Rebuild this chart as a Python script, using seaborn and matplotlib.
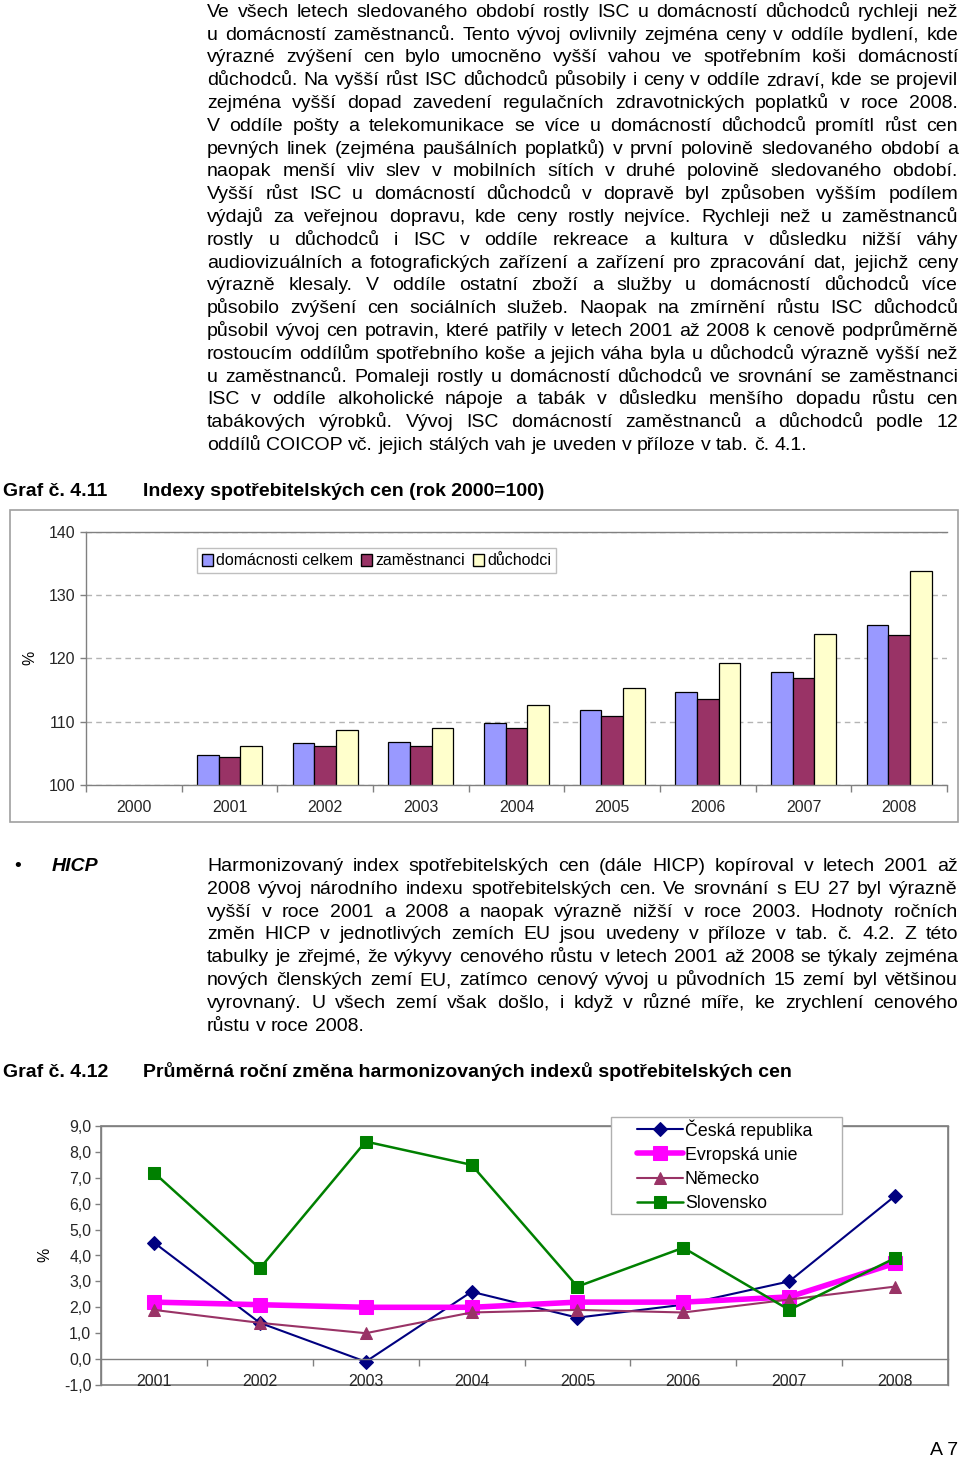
import numpy as np
import pandas as pd
import matplotlib
matplotlib.use("Agg")
import matplotlib.pyplot as plt
import seaborn as sns
from matplotlib.patches import Rectangle
from matplotlib.ticker import FixedLocator, FuncFormatter

# ---------------- data ----------------
bar_categories = ["2000", "2001", "2002", "2003", "2004", "2005", "2006", "2007", "2008"]
bar_years = ["2001", "2002", "2003", "2004", "2005", "2006", "2007", "2008"]
bar_series = ["domácnosti celkem", "zaměstnanci", "důchodci"]
domacnosti_celkem = [104.8, 106.7, 106.8, 109.8, 111.9, 114.7, 117.9, 125.3]
zamestnanci = [104.5, 106.2, 106.2, 109.0, 110.9, 113.6, 116.9, 123.7]
duchodci = [106.2, 108.7, 109.0, 112.6, 115.3, 119.3, 123.8, 133.9]
bar_colors = ["#9999FF", "#993366", "#FFFFCC"]

line_years = [2001, 2002, 2003, 2004, 2005, 2006, 2007, 2008]
line_series = ["Česká republika", "Evropská unie", "Německo", "Slovensko"]
ceska_republika = [4.5, 1.4, -0.1, 2.6, 1.6, 2.1, 3.0, 6.3]
evropska_unie = [2.2, 2.1, 2.0, 2.0, 2.2, 2.2, 2.4, 3.7]
nemecko = [1.9, 1.4, 1.0, 1.8, 1.9, 1.8, 2.3, 2.8]
slovensko = [7.2, 3.5, 8.4, 7.5, 2.8, 4.3, 1.9, 3.9]

para1 = [
    "Ve všech letech sledovaného období rostly ISC u domácností důchodců rychleji než",
    "u domácností zaměstnanců. Tento vývoj ovlivnily zejména ceny v oddíle bydlení, kde",
    "výrazné zvýšení cen bylo umocněno vyšší vahou ve spotřebním koši domácností",
    "důchodců. Na vyšší růst ISC důchodců působily i ceny v oddíle zdraví, kde se projevil",
    "zejména vyšší dopad zavedení regulačních zdravotnických poplatků v roce 2008.",
    "V oddíle pošty a telekomunikace se více u domácností důchodců promítl růst cen",
    "pevných linek (zejména paušálních poplatků) v první polovině sledovaného období a",
    "naopak menší vliv slev v mobilních sítích v druhé polovině sledovaného období.",
    "Vyšší růst ISC u domácností důchodců v dopravě byl způsoben vyšším podílem",
    "výdajů za veřejnou dopravu, kde ceny rostly nejvíce. Rychleji než u zaměstnanců",
    "rostly u důchodců i ISC v oddíle rekreace a kultura v důsledku nižší váhy",
    "audiovizuálních a fotografických zařízení a zařízení pro zpracování dat, jejichž ceny",
    "výrazně klesaly. V oddíle ostatní zboží a služby u domácností důchodců více",
    "působilo zvýšení cen sociálních služeb. Naopak na zmírnění růstu ISC důchodců",
    "působil vývoj cen potravin, které patřily v letech 2001 až 2008 k cenově podprůměrně",
    "rostoucím oddílům spotřebního koše a jejich váha byla u důchodců výrazně vyšší než",
    "u zaměstnanců. Pomaleji rostly u domácností důchodců ve srovnání se zaměstnanci",
    "ISC v oddíle alkoholické nápoje a tabák v důsledku menšího dopadu růstu cen",
    "tabákových výrobků. Vývoj ISC domácností zaměstnanců a důchodců podle 12",
    "oddílů COICOP vč. jejich stálých vah je uveden v příloze v tab. č. 4.1.",
]
para2 = [
    "Harmonizovaný index spotřebitelských cen (dále HICP) kopíroval v letech 2001 až",
    "2008 vývoj národního indexu spotřebitelských cen. Ve srovnání s EU 27 byl výrazně",
    "vyšší v roce 2001 a 2008 a naopak výrazně nižší v roce 2003. Hodnoty ročních",
    "změn HICP v jednotlivých zemích EU jsou uvedeny v příloze v tab. č. 4.2. Z této",
    "tabulky je zřejmé, že výkyvy cenového růstu v letech 2001 až 2008 se týkaly zejména",
    "nových členských zemí EU, zatímco cenový vývoj u původních 15 zemí byl většinou",
    "vyrovnaný. U všech zemí však došlo, i když v různé míře, ke zrychlení cenového",
    "růstu v roce 2008.",
]

# ---------------- setup ----------------
sns.set_theme(style="white")
FONT = ["Liberation Sans", "DejaVu Sans"]
plt.rcParams["font.family"] = FONT
plt.rcParams["text.color"] = "black"

W, H = 960, 1459
fig = plt.figure(figsize=(W / 100, H / 100), dpi=100)
fig.patch.set_facecolor("white")
renderer = fig.canvas.get_renderer()


def X(px):
    return px / W


def Y(py):
    return 1 - py / H


BODY = dict(fontsize=14, family=FONT)


def measure(s, **kw):
    t = fig.text(0, 0, s, **kw)
    w = t.get_window_extent(renderer=renderer).width
    t.remove()
    return w


def draw_para(lines, x0, x1, y0, dy, **kw):
    space_w = measure("a a", **kw) - measure("aa", **kw)
    for i, line in enumerate(lines):
        yb = round(y0 + i * dy)
        words = line.split(" ")
        widths = [measure(w, **kw) for w in words]
        if i == len(lines) - 1 or len(words) == 1:
            gap = space_w
        else:
            gap = (x1 - x0 - sum(widths)) / (len(words) - 1)
        x = x0
        for w, wd in zip(words, widths):
            fig.text(X(x), Y(yb), w, ha="left", va="baseline", **kw)
            x += wd + gap


draw_para(para1, 207, 958, 16.7, 22.8, **BODY)

fig.text(X(3), Y(496), "Graf č. 4.11", ha="left", va="baseline", fontweight="bold", **BODY)
fig.text(X(143), Y(496), "Indexy spotřebitelských cen (rok 2000=100)", ha="left",
         va="baseline", fontweight="bold", **BODY)

fig.text(X(14), Y(871), "•", ha="left", va="baseline", **BODY)
fig.text(X(52), Y(871), "HICP", ha="left", va="baseline", fontweight="bold",
         fontstyle="italic", **BODY)
draw_para(para2, 207, 958, 871, 22.8, **BODY)

fig.text(X(3), Y(1077), "Graf č. 4.12", ha="left", va="baseline", fontweight="bold", **BODY)
fig.text(X(143), Y(1077), "Průměrná roční změna harmonizovaných indexů spotřebitelských cen",
         ha="left", va="baseline", fontweight="bold", **BODY)
fig.text(X(958), Y(1455), "A 7", ha="right", va="baseline", **BODY)

GRAY = "#808080"
GRID = "#B4B4B4"
TF = 11.4  # chart tick font size

# ---------------- bar chart ----------------
fig.add_artist(Rectangle((X(10), Y(822)), X(958) - X(10), Y(510) - Y(822),
                         transform=fig.transFigure, fill=False, edgecolor="#A0A0A0",
                         linewidth=1.2))
ax1 = fig.add_axes([X(86), Y(785), X(947) - X(86), Y(532) - Y(785)])
bar_df = pd.DataFrame({
    "year": bar_years * 3,
    "value": domacnosti_celkem + zamestnanci + duchodci,
    "series": [s for s in bar_series for _ in bar_years],
})
sns.barplot(data=bar_df, x="year", y="value", hue="series", order=bar_categories,
            hue_order=bar_series, palette=bar_colors, saturation=1, width=0.68,
            edgecolor="black", linewidth=0.9, errorbar=None, ax=ax1)
ax1.set_ylim(100, 140)
ax1.set_xlim(-0.5, len(bar_categories) - 0.5)
ax1.set_yticks([100, 110, 120, 130, 140])
ax1.yaxis.grid(True, color=GRID, linestyle=(0, (4, 3)), linewidth=1)
ax1.set_axisbelow(True)
for s in ["left", "bottom", "top"]:
    ax1.spines[s].set_color(GRAY)
    ax1.spines[s].set_linewidth(1)
ax1.spines["right"].set_visible(False)
ax1.tick_params(axis="y", length=4, color=GRAY, width=1, pad=4, labelsize=TF, left=True)
ax1.tick_params(axis="x", length=0, pad=10.5, labelsize=TF)
ax1.xaxis.set_minor_locator(FixedLocator(np.arange(-0.5, len(bar_categories), 1.0)))
ax1.tick_params(axis="x", which="minor", length=5, color=GRAY, width=1, bottom=True)
ax1.set_xlabel("")
ax1.set_ylabel("")
fig.text(X(30), Y(658), "%", rotation=90, ha="center", va="center", fontsize=TF, family=FONT)
sns.move_legend(ax1, loc="upper left", bbox_to_anchor=(0.129, 0.935), ncol=3, title=None,
                frameon=True, fontsize=11.5, handlelength=0.7, handleheight=0.8,
                handletextpad=0.2, columnspacing=0.5, borderpad=0.3, borderaxespad=0,
                fancybox=False, edgecolor="#B0B0B0")
leg1 = ax1.get_legend()
leg1.get_frame().set_linewidth(1)
for h in leg1.legend_handles:
    h.set_edgecolor("black")
    h.set_linewidth(1)

# ---------------- line chart ----------------
ax2 = fig.add_axes([X(101), Y(1385), X(948) - X(101), Y(1126) - Y(1385)])
line_df = pd.DataFrame({
    "year": line_years * 4,
    "value": ceska_republika + evropska_unie + nemecko + slovensko,
    "country": [c for c in line_series for _ in line_years],
})
styles = {
    "Česká republika": dict(color="#000080", marker="D", markersize=7, linewidth=1.5),
    "Evropská unie": dict(color="#FF00FF", marker="s", markersize=10, linewidth=4),
    "Německo": dict(color="#993366", marker="^", markersize=8, linewidth=1.5),
    "Slovensko": dict(color="#008000", marker="s", markersize=8, linewidth=1.8),
}
for c in line_series:
    st = styles[c]
    sns.lineplot(data=line_df[line_df["country"] == c], x="year", y="value", label=c,
                 color=st["color"], marker=st["marker"], markersize=st["markersize"],
                 linewidth=st["linewidth"], markeredgecolor=st["color"], ax=ax2)
ax2.set_xlim(2000.5, 2008.5)
ax2.set_ylim(-1, 9)
ax2.set_xticks(line_years)
ax2.set_xticklabels([str(y) for y in line_years])
ax2.set_yticks(np.arange(-1, 10, 1))
ax2.yaxis.set_major_formatter(FuncFormatter(lambda v, p: f"{v:.1f}".replace(".", ",")))
ax2.set_yticks(np.arange(1, 9, 1), minor=True)
ax2.yaxis.grid(True, which="minor", color=GRID, linestyle=(0, (4, 3)), linewidth=1)
ax2.yaxis.grid(False, which="major")
ax2.set_axisbelow(True)
for s in ["left", "top", "right", "bottom"]:
    ax2.spines[s].set_color(GRAY)
    ax2.spines[s].set_linewidth(1)
ax2.spines["bottom"].set_position(("data", 0))
ax2.patch.set_edgecolor(GRAY)
ax2.patch.set_linewidth(1.2)
ax2.tick_params(axis="y", which="major", length=4, color=GRAY, width=1, pad=3,
                labelsize=TF, left=True)
ax2.tick_params(axis="y", which="minor", length=0)
ax2.tick_params(axis="x", which="major", length=0, pad=10.5, labelsize=TF)
ax2.xaxis.set_minor_locator(FixedLocator(np.arange(2001.5, 2008.5, 1.0)))
ax2.tick_params(axis="x", which="minor", length=5, color=GRAY, width=1, bottom=True)
ax2.set_xlabel("")
ax2.set_ylabel("")
fig.text(X(45), Y(1255), "%", rotation=90, ha="center", va="center", fontsize=TF, family=FONT)

# legend frame (Excel-style box with wide side padding)
legend_box = Rectangle((X(611), Y(1214)), X(842) - X(611), Y(1117) - Y(1214),
                       transform=fig.transFigure, facecolor="white", edgecolor="#B0B0B0",
                       linewidth=1, zorder=4, clip_on=False)
ax2.add_artist(legend_box)
leg2 = ax2.legend(loc="upper left", bbox_to_anchor=((637 - 101) / 847, 1 + (1126 - 1119) / 260),
                  frameon=False, fontsize=12.8, handlelength=2.6, handletextpad=0.1,
                  labelspacing=0.4, borderpad=0, borderaxespad=0)
leg2.set_zorder(6)

fig.savefig("out.png", dpi=100, facecolor="white")
